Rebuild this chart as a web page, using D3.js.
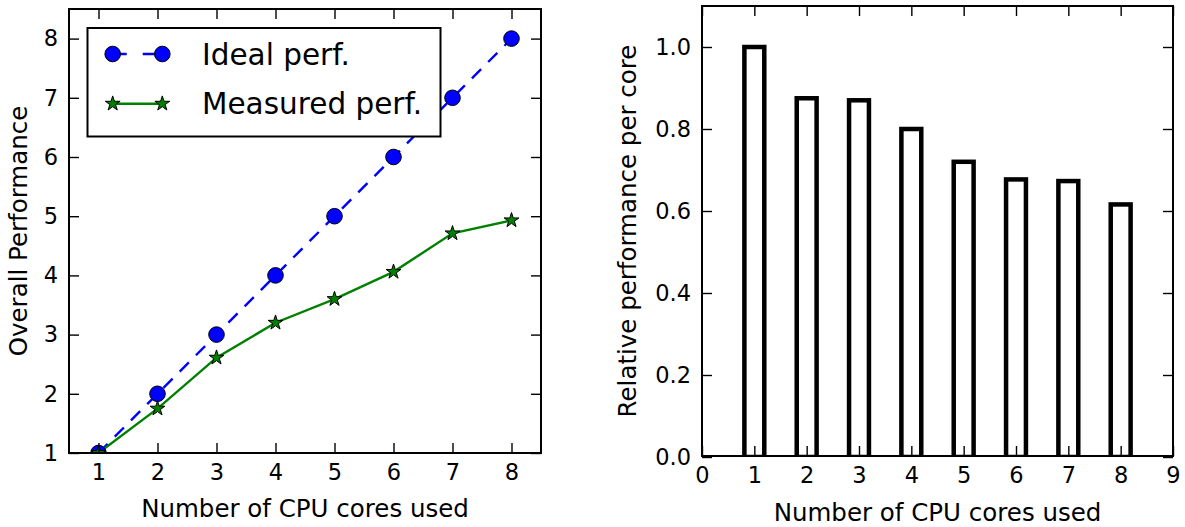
<!DOCTYPE html>
<html>
<head>
<meta charset="utf-8">
<script src="https://cdn.jsdelivr.net/npm/d3@7"></script>
<style>
  body { margin: 0; background: #fff; }
  text { font-family: "DejaVu Sans", sans-serif; fill: #000; }
</style>
</head>
<body>
<svg id="chart" width="1185" height="527"></svg>
<script>
// ---- data ----
const cores = [1, 2, 3, 4, 5, 6, 7, 8];
const idealPerf = [1, 2, 3, 4, 5, 6, 7, 8];
const measuredPerf = [1, 1.75, 2.61, 3.2, 3.6, 4.06, 4.71, 4.93];
const relPerCore = [1.0, 0.875, 0.87, 0.80, 0.72, 0.677, 0.673, 0.616];

const leftXTicks = [1, 2, 3, 4, 5, 6, 7, 8];
const leftYTicks = [1, 2, 3, 4, 5, 6, 7, 8];
const rightXTicks = [0, 1, 2, 3, 4, 5, 6, 7, 8, 9];
const rightYTicks = [0.0, 0.2, 0.4, 0.6, 0.8, 1.0];

const seriesNames = ["Ideal perf.", "Measured perf."];
const xLabel = "Number of CPU cores used";
const leftYLabel = "Overall Performance";
const rightYLabel = "Relative performance per core";

// ---- layout ----
const svg = d3.select("#chart");
svg.append("rect").attr("width", 1185).attr("height", 527).attr("fill", "#fff");

const L = { x0: 69, x1: 541, y0: 9, y1: 453 };
const R = { x0: 702, x1: 1173, y0: 6, y1: 456 };

const xL = d3.scaleLinear().domain([0.5, 8.5]).range([L.x0, L.x1]);
const yL = d3.scaleLinear().domain([1, 8.5]).range([L.y1, L.y0]);
const xR = d3.scaleLinear().domain([0, 9]).range([R.x0, R.x1]);
const yR = d3.scaleLinear().domain([0, 1.1]).range([457, R.y0]);

const tickFont = 22.5, labelFont = 24.5, legendFont = 29.5;

function starPath(r) {
  const ri = r * 0.382;
  const pts = [];
  for (let i = 0; i < 10; i++) {
    const a = -Math.PI / 2 + i * Math.PI / 5;
    const rr = i % 2 === 0 ? r : ri;
    pts.push([rr * Math.cos(a), rr * Math.sin(a)]);
  }
  return "M" + pts.map(p => p[0].toFixed(2) + "," + p[1].toFixed(2)).join("L") + "Z";
}

function styleAxis(g) {
  g.select(".domain").remove();
  g.selectAll(".tick line").attr("stroke", "#000").attr("stroke-width", 1.4);
  g.selectAll(".tick text").attr("font-size", tickFont).attr("fill", "#000")
    .attr("font-family", "DejaVu Sans");
}

function drawAxes(box, xs, ys, xt, yt, yfmt) {
  const bx = svg.append("g").attr("transform", `translate(0,${box.y1})`)
    .call(d3.axisBottom(xs).tickValues(xt).tickSize(-10).tickPadding(11).tickFormat(d3.format("d")));
  styleAxis(bx);
  const tx = svg.append("g").attr("transform", `translate(0,${box.y0})`)
    .call(d3.axisTop(xs).tickValues(xt).tickSize(-10).tickFormat(""));
  styleAxis(tx);
  const ly = svg.append("g").attr("transform", `translate(${box.x0},0)`)
    .call(d3.axisLeft(ys).tickValues(yt).tickSize(-10).tickPadding(11).tickFormat(yfmt));
  styleAxis(ly);
  const ry = svg.append("g").attr("transform", `translate(${box.x1},0)`)
    .call(d3.axisRight(ys).tickValues(yt).tickSize(-10).tickFormat(""));
  styleAxis(ry);
}

function frame(box) {
  svg.append("rect")
    .attr("x", box.x0).attr("y", box.y0)
    .attr("width", box.x1 - box.x0).attr("height", box.y1 - box.y0)
    .attr("fill", "none").attr("stroke", "#000").attr("stroke-width", 2);
}

// ---- left panel: overall performance ----
const defs = svg.append("defs");
defs.append("clipPath").attr("id", "clipL").append("rect")
  .attr("x", L.x0).attr("y", L.y0).attr("width", L.x1 - L.x0).attr("height", L.y1 - L.y0);
defs.append("clipPath").attr("id", "clipR").append("rect")
  .attr("x", R.x0).attr("y", R.y0).attr("width", R.x1 - R.x0).attr("height", R.y1 - R.y0);

const plotL = svg.append("g").attr("clip-path", "url(#clipL)");
const line = d3.line().x((d, i) => xL(cores[i])).y(d => yL(d));

plotL.append("path").datum(idealPerf)
  .attr("d", line)
  .attr("fill", "none").attr("stroke", "#0000ff").attr("stroke-width", 2.4)
  .attr("stroke-dasharray", "13,10");
plotL.append("path").datum(measuredPerf)
  .attr("d", line)
  .attr("fill", "none").attr("stroke", "#008000").attr("stroke-width", 2.4);

plotL.selectAll("circle.ideal").data(idealPerf).join("circle")
  .attr("class", "ideal")
  .attr("cx", (d, i) => xL(cores[i])).attr("cy", d => yL(d)).attr("r", 7.8)
  .attr("fill", "#0000ff").attr("stroke", "#000").attr("stroke-width", 1);
plotL.selectAll("path.star").data(measuredPerf).join("path")
  .attr("class", "star")
  .attr("transform", (d, i) => `translate(${xL(cores[i])},${yL(d)})`)
  .attr("d", starPath(7.8))
  .attr("fill", "#008000").attr("stroke", "#000").attr("stroke-width", 1);

drawAxes(L, xL, yL, leftXTicks, leftYTicks, d3.format("d"));
frame(L);

// legend
const lg = svg.append("g");
lg.append("rect").attr("x", 87.5).attr("y", 28).attr("width", 353).attr("height", 108.5)
  .attr("fill", "#fff").attr("stroke", "#000").attr("stroke-width", 2);
const legX0 = 112.7, legX1 = 162.3, legRows = [54, 103.7];
lg.append("line").attr("x1", legX0).attr("x2", legX1).attr("y1", legRows[0]).attr("y2", legRows[0])
  .attr("stroke", "#0000ff").attr("stroke-width", 2.4).attr("stroke-dasharray", "14,16");
[legX0, legX1].forEach(x => lg.append("circle").attr("cx", x).attr("cy", legRows[0]).attr("r", 7.8)
  .attr("fill", "#0000ff").attr("stroke", "#000").attr("stroke-width", 1));
lg.append("line").attr("x1", legX0).attr("x2", legX1).attr("y1", legRows[1]).attr("y2", legRows[1])
  .attr("stroke", "#008000").attr("stroke-width", 2.4);
[legX0, legX1].forEach(x => lg.append("path").attr("transform", `translate(${x},${legRows[1]})`)
  .attr("d", starPath(7.8)).attr("fill", "#008000").attr("stroke", "#000").attr("stroke-width", 1));
seriesNames.forEach((s, i) => lg.append("text").attr("x", 202).attr("y", legRows[i])
  .attr("dy", "0.36em").attr("font-size", legendFont).text(s));

svg.append("text").attr("x", (L.x0 + L.x1) / 2).attr("y", 517)
  .attr("text-anchor", "middle").attr("font-size", labelFont).text(xLabel);
svg.append("text").attr("transform", `translate(27,${(L.y0 + L.y1) / 2}) rotate(-90)`)
  .attr("text-anchor", "middle").attr("font-size", labelFont).text(leftYLabel);

// ---- right panel: per-core relative performance ----
const plotR = svg.append("g").attr("clip-path", "url(#clipR)");
const barW = 0.38;
plotR.selectAll("rect.bar").data(relPerCore).join("rect")
  .attr("class", "bar")
  .attr("x", (d, i) => xR(cores[i] - barW / 2))
  .attr("width", xR(barW) - xR(0))
  .attr("y", d => yR(d))
  .attr("height", d => yR(0) - yR(d))
  .attr("fill", "#fff").attr("stroke", "#000").attr("stroke-width", 4.5);

drawAxes(R, xR, yR, rightXTicks, rightYTicks, d3.format(".1f"));
frame(R);

svg.append("text").attr("x", (R.x0 + R.x1) / 2).attr("y", 521)
  .attr("text-anchor", "middle").attr("font-size", labelFont).text(xLabel);
svg.append("text").attr("transform", `translate(636,${(R.y0 + R.y1) / 2}) rotate(-90)`)
  .attr("text-anchor", "middle").attr("font-size", labelFont).text(rightYLabel);
</script>
</body>
</html>
